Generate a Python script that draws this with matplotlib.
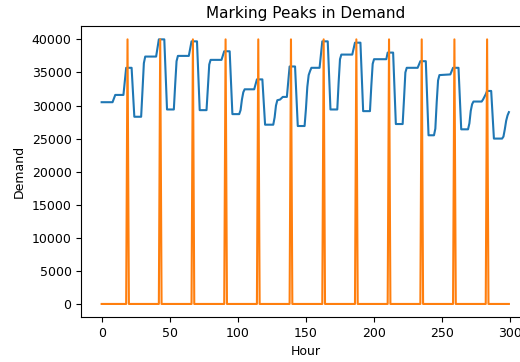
import numpy as np
import matplotlib
matplotlib.use("Agg")
import matplotlib.pyplot as plt

# hourly demand at its corners (hour, demand)
hours = [0, 8, 10, 16, 18, 22, 24,
         29, 30, 31, 32, 40, 42, 46, 48,
         53, 54, 55, 56, 64, 66, 70, 72,
         77, 78, 79, 80, 88, 90, 94, 96,
         101, 102, 103, 104, 105, 112, 114, 118, 120,
         126, 127, 128, 129, 131, 133, 136, 138, 142, 144,
         149, 150, 151, 152, 153, 154, 160, 162, 166, 168,
         173, 174, 175, 176, 184, 186, 190, 192,
         197, 198, 199, 200, 209, 210, 214, 216,
         221, 222, 223, 224, 232, 234, 238, 240,
         244, 245, 246, 247, 248, 256, 258, 262, 264,
         269, 270, 271, 272, 273, 279, 280, 282, 283, 286, 288,
         294, 295, 296, 297, 298, 299]
demand = [30500, 30500, 31600, 31600, 35700, 35700, 28300,
          28300, 32300, 36400, 37400, 37400, 40000, 40000, 29400,
          29400, 33200, 36700, 37500, 37500, 39700, 39700, 29300,
          29300, 32700, 36200, 36900, 36900, 38200, 38200, 28700,
          28700, 29300, 30900, 32000, 32450, 32450, 33950, 33950, 27100,
          27100, 28200, 30000, 30800, 30900, 31300, 31300, 35900, 35900, 26900,
          26900, 29500, 32800, 34600, 35200, 35700, 35700, 39700, 39700, 29400,
          29400, 33500, 37000, 37700, 37700, 39500, 39500, 29150,
          29150, 33000, 36300, 37000, 37000, 38000, 38000, 27200,
          27200, 31000, 35000, 35700, 35700, 36700, 36700, 25500,
          25500, 26500, 30500, 33800, 34600, 34700, 35700, 35700, 26400,
          26400, 27300, 29200, 30200, 30600, 30600, 30900, 31700, 32200, 32200, 25000,
          25000, 25300, 26400, 27700, 28500, 29000]

# hours flagged as daily peaks
peak_hours = [19, 43, 67, 91, 115, 139, 163, 187, 211, 235, 259, 283]
peak_height = 40000
n_hours = 300


def plot_peaks():
    marks = np.zeros(n_hours)
    marks[peak_hours] = peak_height

    fig = plt.figure(figsize=(5.2, 3.62), dpi=100)
    ax = fig.add_axes([0.1563, 0.1238, 0.8615, 0.804])
    ax.plot(hours, demand)
    ax.plot(np.arange(n_hours), marks)
    ax.set_title("Marking Peaks in Demand", fontsize=11)
    ax.set_xlabel("Hour", fontsize=9)
    ax.set_ylabel("Demand", fontsize=9)
    ax.tick_params(labelsize=9)
    fig.savefig("out.png", dpi=100)


if __name__ == "__main__":
    plot_peaks()
